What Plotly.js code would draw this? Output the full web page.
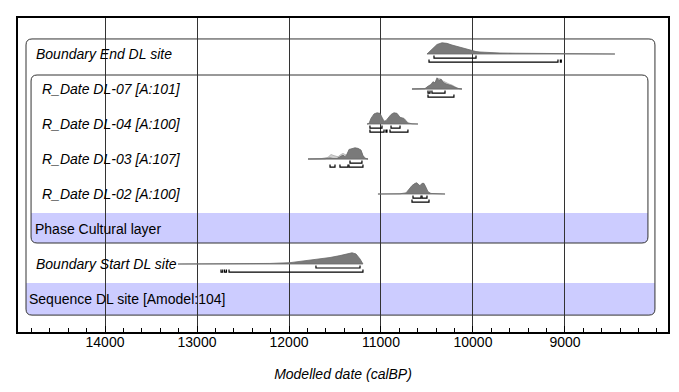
<!DOCTYPE html>
<html>
<head>
<meta charset="utf-8">
<script src="https://cdn.plot.ly/plotly-3.0.1.min.js"></script>
<style>html,body{margin:0;padding:0;background:#fff}#chart{width:679px;height:392px}</style>
</head>
<body>
<div id="chart"></div>
<script>
// ---------- DATA ----------
const rowLabels = [
  "<i>Boundary End DL site</i>",
  "<i>R_Date DL-07 [A:101]</i>",
  "<i>R_Date DL-04 [A:100]</i>",
  "<i>R_Date DL-03 [A:107]</i>",
  "<i>R_Date DL-02 [A:100]</i>",
  "Phase Cultural layer",
  "<i>Boundary Start DL site</i>",
  "Sequence DL site [Amodel:104]"
];
const tickYears = [14000, 13000, 12000, 11000, 10000, 9000];

// posterior distributions (calBP, relative probability)
const endYears   = [10500,10446,10391,10337,10283,10228,10141,10033,9967,9924,9815,9707,9543,9380,9054,8728,8457];
const endDens    = [0,0.4,0.85,1.0,0.95,0.8,0.6,0.4,0.22,0.18,0.12,0.09,0.07,0.05,0.04,0.03,0];

const dl07Years  = [10663,10522,10489,10457,10435,10413,10391,10370,10348,10326,10293,10261,10228,10196,10163,10120];
const dl07Dens   = [0,0.03,0.25,0.4,0.65,0.55,1.0,0.75,0.9,0.6,0.45,0.38,0.28,0.15,0.05,0];
const dl07LikYears = [10663,10522,10489,10457,10435,10413,10391,10370,10348,10326,10293,10261,10228,10196,10163,10120];
const dl07LikDens  = [0,0.03,0.2,0.35,0.55,0.5,0.85,0.95,0.8,0.7,0.55,0.45,0.35,0.2,0.06,0];

const dl04Years  = [11152,11130,11109,11076,11043,11011,10989,10967,10946,10924,10891,10859,10826,10793,10772,10750,10728,10707,10663,10598];
const dl04Dens   = [0,0.05,0.5,0.9,1.0,0.95,0.6,0.25,0.3,0.5,0.85,1.0,0.95,0.6,0.55,0.5,0.3,0.1,0.02,0];

const dl03Years  = [11793,11609,11554,11522,11478,11446,11413,11391,11370,11348,11315,11283,11250,11217,11196,11174,11141];
const dl03Dens   = [0,0.02,0.1,0.05,0.05,0.2,0.35,0.2,0.4,0.85,0.9,1.0,0.95,0.8,0.3,0.05,0];
const dl03LikYears = [11793,11652,11576,11543,11511,11467,11435,11413,11380,11348,11315,11283,11250,11217,11196,11163,11141];
const dl03LikDens  = [0,0.03,0.15,0.4,0.3,0.2,0.4,0.5,0.35,0.7,0.8,0.85,0.8,0.7,0.3,0.05,0];

const dl02Years  = [11033,10793,10728,10696,10663,10630,10609,10587,10576,10554,10533,10511,10489,10457,10304];
const dl02Dens   = [0,0.02,0.1,0.4,0.75,0.95,1.0,0.8,0.75,0.95,0.95,0.6,0.2,0.05,0];

const startYears = [13207,12641,12207,11989,11880,11772,11663,11554,11446,11359,11315,11272,11228,11196];
const startDens  = [0,0.02,0.05,0.12,0.22,0.33,0.45,0.58,0.75,0.95,1.0,0.9,0.45,0];

// highest posterior density ranges [from, to] in calBP
const endHpd68   = [[10424, 9967]];
const endHpd95   = [[10478, 9076], [9050, 9040]];
const dl07Hpd68  = [[10489, 10467], [10446, 10304]];
const dl07Hpd95  = [[10489, 10207]];
const dl04Hpd68  = [[11120, 10989], [10891, 10793]];
const dl04Hpd95  = [[11120, 10967], [10946, 10935], [10902, 10707]];
const dl03Hpd68  = [[11337, 11207]];
const dl03Hpd95  = [[11554, 11500], [11446, 11359], [11348, 11196]];
const dl02Hpd68  = [[10652, 10565], [10554, 10500]];
const dl02Hpd95  = [[10663, 10478]];
const startHpd68 = [[11707, 11228]];
const startHpd95 = [[12739, 12720], [12700, 12680], [12652, 11196]];

// ---------- DRAWING ----------
const H = 0.32;          // peak height in row units
const OFF68 = 0.115, OFF95 = 0.23, TICK = 0.07;
const traces = [];

function dist(row, xs, ds, fill, line) {
  traces.push({
    type: 'scatter', mode: 'lines', fill: 'toself',
    x: xs.concat([xs[xs.length-1], xs[0]]),
    y: ds.map(d => row - d*H).concat([row, row]),
    fillcolor: fill, line: {color: line, width: 0.8},
    hoverinfo: 'skip', showlegend: false
  });
}
function hpd(row, ranges, off) {
  const x = [], y = [];
  ranges.forEach(r => {
    x.push(r[0], r[0], r[1], r[1], null);
    y.push(row+off-TICK, row+off, row+off, row+off-TICK, null);
  });
  traces.push({type:'scatter', mode:'lines', x, y, line:{color:'#000', width:1.2},
    hoverinfo:'skip', showlegend:false, connectgaps:false});
}

const POST = 'rgb(122,122,122)', POSTL = 'rgb(105,105,105)';
const LIK = 'rgba(205,205,205,0.9)', LIKL = 'rgb(170,170,170)';

dist(0, endYears, endDens, POST, POSTL);
hpd(0, endHpd68, OFF68); hpd(0, endHpd95, OFF95);

dist(1, dl07LikYears, dl07LikDens, LIK, LIKL);
dist(1, dl07Years, dl07Dens, POST, POSTL);
hpd(1, dl07Hpd68, OFF68); hpd(1, dl07Hpd95, OFF95);

dist(2, dl04Years, dl04Dens, POST, POSTL);
hpd(2, dl04Hpd68, OFF68); hpd(2, dl04Hpd95, OFF95);

dist(3, dl03LikYears, dl03LikDens, LIK, LIKL);
dist(3, dl03Years, dl03Dens, POST, POSTL);
hpd(3, dl03Hpd68, OFF68); hpd(3, dl03Hpd95, OFF95);

dist(4, dl02Years, dl02Dens, POST, POSTL);
hpd(4, dl02Hpd68, OFF68); hpd(4, dl02Hpd95, OFF95);

dist(6, startYears, startDens, POST, POSTL);
hpd(6, startHpd68, OFF68); hpd(6, startHpd95, OFF95);

// ---------- LAYOUT ----------
const XR = [14946, 7880];
const YR = [7.943, -1.029];
const PXX = (XR[0]-XR[1]) / 650;   // years per pixel
const PXY = 1/35;                  // row units per pixel

function roundBox(L, R, T, B, r, topRound=true) {
  const dx = r*PXX, dy = r*PXY;
  let p = '';
  if (topRound) {
    p += `M ${L},${T+dy} Q ${L},${T} ${L-dx},${T} L ${R+dx},${T} Q ${R},${T} ${R},${T+dy} `;
  } else {
    p += `M ${L},${T} L ${R},${T} `;
  }
  p += `L ${R},${B-dy} Q ${R},${B} ${R+dx},${B} L ${L-dx},${B} Q ${L},${B} ${L},${B-dy} Z`;
  return p;
}

const seqL = 14859, seqR = 8022, seqT = -0.43, seqB = 7.46, seqS = 6.54;
const phL = 14804, phR = 8098, phT = 0.6, phB = 5.4, phS = 4.54;

const shapes = [
  {type:'path', xref:'x', yref:'y', layer:'below', path: roundBox(seqL, seqR, seqS, seqB, 6, false),
   fillcolor:'rgb(204,204,255)', line:{width:0}},
  {type:'path', xref:'x', yref:'y', layer:'below', path: roundBox(phL, phR, phS, phB, 6, false),
   fillcolor:'rgb(204,204,255)', line:{width:0}},
  {type:'path', xref:'x', yref:'y', layer:'below', path: roundBox(seqL, seqR, seqT, seqB, 6),
   fillcolor:'rgba(0,0,0,0)', line:{color:'#333', width:1}},
  {type:'path', xref:'x', yref:'y', layer:'below', path: roundBox(phL, phR, phT, phB, 6),
   fillcolor:'rgba(0,0,0,0)', line:{color:'#333', width:1}}
];

const labelX = [34, 40, 40, 40, 40, 33, 34, 27];
const annotations = rowLabels.map((t, i) => ({
  text: t, xref:'paper', yref:'y', x: (labelX[i]-18)/650, y: i,
  xanchor:'left', yanchor:'middle', showarrow:false,
  font:{family:'Liberation Sans, Arial, sans-serif', size:14, color:'#000'}
}));

const layout = {
  width: 679, height: 392,
  margin: {l:18, r:11, t:18, b:60},
  paper_bgcolor:'#fff', plot_bgcolor:'rgba(0,0,0,0)',
  font: {family:'Liberation Sans, Arial, sans-serif', size:13, color:'#000'},
  xaxis: {
    range: XR, tickvals: tickYears, ticktext: tickYears.map(String),
    showgrid: true, gridcolor:'#333', gridwidth:1,
    ticks:'inside', ticklen:6, tickcolor:'#000',
    minor: {dtick:200, ticks:'inside', ticklen:4, tickcolor:'#000', showgrid:false},
    showline:true, mirror:true, linecolor:'#000', linewidth:2,
    zeroline:false, tickfont:{size:14}, ticklabelstandoff:-4,
    title: {text:'<i>Modelled date (calBP)</i>', font:{size:14}, standoff:20}
  },
  yaxis: {
    range: YR, showgrid:false, zeroline:false, showticklabels:false, ticks:'',
    showline:true, mirror:true, linecolor:'#000', linewidth:2
  },
  shapes, annotations, showlegend:false
};

Plotly.newPlot('chart', traces, layout, {staticPlot:true});
</script>
</body>
</html>
